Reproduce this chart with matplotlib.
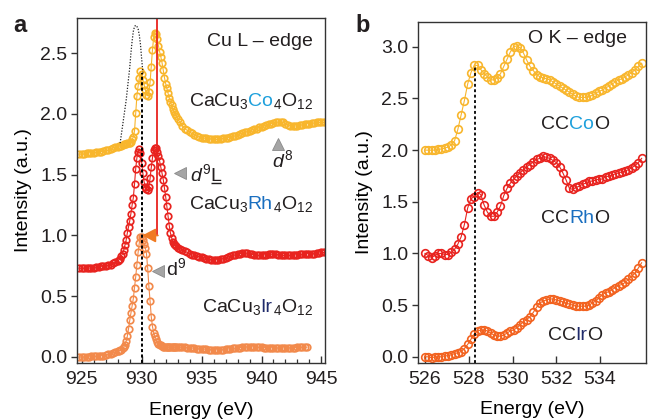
import numpy as np
import matplotlib
matplotlib.use("Agg")
import matplotlib.pyplot as plt
from matplotlib import transforms as mtrans
from matplotlib.ticker import MultipleLocator, FormatStrFormatter

# ---------------- data: Cu L-edge (panel a) ----------------
# energy grid segments (eV)
cu_x_lo = np.linspace(924.8, 927.8, 16)
cu_x_mid = np.linspace(928.0, 933.0, 51)
cu_x_hi = np.linspace(933.2, 945.2, 61)
cu_x_hi_ir = np.linspace(933.2, 943.8, 54)

co_L = [1.67, 1.67, 1.67, 1.675, 1.68, 1.68, 1.68, 1.685, 1.69, 1.69, 1.695, 1.70, 1.70, 1.71, 1.72, 1.73,
        1.73, 1.735, 1.74, 1.74, 1.745, 1.75, 1.75, 1.755, 1.76, 1.76,
        1.765, 1.77, 1.79, 1.81, 1.86, 2.01, 2.15, 2.23, 2.30, 2.35,
        2.33, 2.28, 2.24, 2.20, 2.16, 2.15, 2.18, 2.26, 2.39, 2.53,
        2.63, 2.67, 2.66, 2.62, 2.56, 2.51, 2.47, 2.42, 2.36, 2.30,
        2.25, 2.21, 2.17, 2.13, 2.10, 2.07, 2.04, 2.02, 2.00, 1.98,
        1.96,
        1.93, 1.90, 1.88, 1.865, 1.85, 1.84, 1.83, 1.82, 1.81, 1.805,
        1.80, 1.80, 1.795, 1.795, 1.79, 1.79, 1.79, 1.795, 1.80, 1.80,
        1.805, 1.81, 1.815, 1.82, 1.83, 1.835, 1.84, 1.85, 1.855, 1.86,
        1.87, 1.875, 1.88, 1.89, 1.895, 1.90, 1.91, 1.915, 1.92, 1.925,
        1.93, 1.935, 1.935, 1.93, 1.92, 1.91, 1.905, 1.90, 1.90, 1.905,
        1.91, 1.91, 1.915, 1.92, 1.92, 1.925, 1.925, 1.93, 1.93, 1.93,
        1.93]

rh_L = [0.73, 0.73, 0.73, 0.73, 0.73, 0.735, 0.735, 0.74, 0.74, 0.745, 0.75, 0.75, 0.755, 0.76, 0.77, 0.78,
        0.79, 0.80, 0.81, 0.83, 0.85, 0.88, 0.92, 0.96, 1.02, 1.07,
        1.12, 1.18, 1.25, 1.31, 1.42, 1.55, 1.64, 1.69, 1.71, 1.68,
        1.60, 1.51, 1.44, 1.40, 1.38, 1.37, 1.40, 1.47, 1.56, 1.64,
        1.70, 1.72, 1.72, 1.69, 1.65, 1.61, 1.56, 1.51, 1.46, 1.39,
        1.32, 1.24, 1.16, 1.08, 1.02, 0.98, 0.95, 0.93, 0.92, 0.91,
        0.90,
        0.89, 0.88, 0.87, 0.86, 0.85, 0.84, 0.835, 0.83, 0.825, 0.82,
        0.815, 0.81, 0.805, 0.80, 0.80, 0.80, 0.80, 0.805, 0.81, 0.815,
        0.82, 0.83, 0.835, 0.84, 0.845, 0.85, 0.855, 0.855, 0.855, 0.85,
        0.845, 0.84, 0.835, 0.835, 0.835, 0.84, 0.84, 0.845, 0.845, 0.845,
        0.845, 0.84, 0.84, 0.835, 0.835, 0.835, 0.835, 0.84, 0.84, 0.84,
        0.845, 0.845, 0.845, 0.85, 0.85, 0.85, 0.85, 0.855, 0.855, 0.86,
        0.86]

ir_L = [0.0, 0.0, 0.0, 0.0, 0.0, 0.005, 0.005, 0.005, 0.01, 0.01, 0.01, 0.015, 0.02, 0.025, 0.03, 0.04,
        0.045, 0.05, 0.055, 0.06, 0.07, 0.08, 0.10, 0.13, 0.17, 0.23,
        0.30, 0.36, 0.42, 0.48, 0.57, 0.66, 0.76, 0.86, 0.94, 0.99,
        0.99, 0.96, 0.93, 0.90, 0.85, 0.73, 0.58, 0.46, 0.33, 0.25,
        0.20, 0.17, 0.145, 0.125, 0.11, 0.10, 0.095, 0.09, 0.085, 0.085,
        0.08, 0.08, 0.08, 0.08, 0.08, 0.08, 0.08, 0.08, 0.08, 0.08,
        0.08,
        0.08, 0.08, 0.078, 0.076, 0.075, 0.073, 0.07, 0.068, 0.066, 0.065,
        0.064, 0.062, 0.06, 0.06, 0.058, 0.058, 0.058, 0.06, 0.06, 0.062,
        0.065, 0.067, 0.07, 0.072, 0.075, 0.077, 0.08, 0.082, 0.083, 0.084,
        0.083, 0.082, 0.08, 0.079, 0.078, 0.077, 0.076, 0.076, 0.075, 0.075,
        0.075, 0.074, 0.074, 0.074, 0.074, 0.075, 0.075, 0.076, 0.077, 0.078,
        0.079, 0.08, 0.08, 0.08]

# reference (dotted) curve
ref_x = [928.2, 928.3, 928.4, 928.5, 928.6, 928.7, 928.8, 928.9, 929.0, 929.1,
         929.2, 929.3, 929.4, 929.5, 929.6, 929.7, 929.8, 929.9, 930.0, 930.1]
ref_y = [1.76, 1.83, 1.90, 1.97, 2.04, 2.11, 2.20, 2.29, 2.38, 2.50,
         2.60, 2.68, 2.72, 2.73, 2.72, 2.70, 2.65, 2.57, 2.45, 2.34]

# ---------------- data: O K-edge (panel b) ----------------
ok_x = np.linspace(526.0, 535.9, 67)
co_K = [2.00, 2.00, 2.00, 2.00, 2.01, 2.01, 2.02,
        2.03, 2.05, 2.09, 2.20, 2.34, 2.48, 2.64,
        2.75, 2.82, 2.82, 2.78, 2.74, 2.71,
        2.68, 2.68, 2.70, 2.74, 2.81, 2.88, 2.95,
        3.00, 3.01, 2.99, 2.94, 2.87, 2.81, 2.77,
        2.73, 2.71, 2.70, 2.69, 2.68, 2.66,
        2.64, 2.62, 2.60, 2.58, 2.56, 2.54, 2.52,
        2.51, 2.51, 2.51, 2.52, 2.53, 2.55, 2.57,
        2.58, 2.60, 2.62, 2.64, 2.66, 2.68,
        2.69, 2.71, 2.73, 2.75, 2.78, 2.81, 2.84]
rh_K = [1.00, 0.98, 0.96, 0.98, 1.00, 1.00, 0.99,
        0.99, 1.01, 1.04, 1.09, 1.16, 1.28, 1.44,
        1.53, 1.55, 1.59, 1.57, 1.47, 1.40,
        1.36, 1.36, 1.40, 1.46, 1.56, 1.63, 1.68,
        1.72, 1.75, 1.78, 1.81, 1.84, 1.86, 1.89,
        1.91, 1.92, 1.94, 1.93, 1.92, 1.90,
        1.88, 1.84, 1.78, 1.71, 1.63, 1.62, 1.64,
        1.65, 1.67, 1.68, 1.70, 1.70, 1.71, 1.72,
        1.72, 1.74, 1.75, 1.76, 1.77, 1.78,
        1.79, 1.80, 1.81, 1.83, 1.85, 1.88, 1.92]
ir_K = [0.00, 0.00, -0.01, 0.00, 0.00, 0.00, 0.01,
        0.01, 0.02, 0.03, 0.04, 0.05, 0.08, 0.12,
        0.17, 0.22, 0.25, 0.26, 0.26, 0.25,
        0.23, 0.21, 0.20, 0.20, 0.21, 0.23, 0.25,
        0.26, 0.28, 0.31, 0.34, 0.36, 0.39, 0.43,
        0.48, 0.52, 0.54, 0.55, 0.56, 0.56,
        0.55, 0.54, 0.53, 0.52, 0.51, 0.50, 0.49,
        0.49, 0.49, 0.49, 0.50, 0.52, 0.54, 0.57,
        0.60, 0.62, 0.63, 0.65, 0.67, 0.69,
        0.70, 0.72, 0.75, 0.78, 0.81, 0.86, 0.91]

# annotation positions (data coords)
dash_a_x, dash_a_top = 930.0, 2.34
red_line_x, red_line_bottom = 931.3, 1.0
arrow_tip_x = 930.05
dash_b_x, dash_b_top = 528.3, 2.80

# ---------------- style ----------------
YELLOW = "#F8B62D"
RED = "#E8231F"
ORANGE_L = "#F28A4C"
ORANGE_R = "#F2621F"
TXT = "#231F20"
C_CO = "#1EA0DC"
C_RH = "#1A6FC0"
C_IR = "#1F2A6B"
FS = 14

plt.rcParams["font.family"] = ["Liberation Sans", "DejaVu Sans"]
plt.rcParams["mathtext.fontset"] = "custom"
plt.rcParams["mathtext.rm"] = "Liberation Sans"
plt.rcParams["mathtext.it"] = "Liberation Sans:italic"
plt.rcParams["mathtext.bf"] = "Liberation Sans:bold"
plt.rcParams["text.color"] = TXT

fig = plt.figure(figsize=(6.49, 4.19), dpi=100)
axL = fig.add_axes([77 / 649, 1 - 363 / 419, 248 / 649, 345 / 419])
axR = fig.add_axes([418 / 649, 1 - 363 / 419, 228 / 649, 341 / 419])
renderer = fig.canvas.get_renderer()


def multi_text(ax, x, y, pieces, ha="right", size=FS):
    ts = [ax.text(x, y, s, color=c, fontsize=size, ha="left", va="baseline")
          for s, c in pieces]
    ws = [t.get_window_extent(renderer).width for t in ts]
    tot = sum(ws)
    off = {"right": -tot, "center": -tot / 2, "left": 0}[ha]
    for t, w in zip(ts, ws):
        t.set_transform(ax.transData + mtrans.ScaledTranslation(off / fig.dpi, 0, fig.dpi_scale_trans))
        off += w
    return ts


mk = dict(marker="o", mfc="none", lw=0.8)

# ---- panel a ----
x_co = np.concatenate([cu_x_lo, cu_x_mid, cu_x_hi])
x_ir = np.concatenate([cu_x_lo, cu_x_mid, cu_x_hi_ir])
axL.plot(x_ir, ir_L, color=ORANGE_L, ms=4.7, mew=1.25, **mk)
axL.plot(x_co, rh_L, color=RED, ms=4.7, mew=1.25, **mk)
axL.plot(x_co, co_L, color=YELLOW, ms=4.7, mew=1.25, **mk)
axL.plot(ref_x, ref_y, color="#222222", lw=0.9, ls=(0, (1, 1.3)))

axL.set_xlim(924.6, 945.3)
axL.set_ylim(-0.05, 2.79)
axL.plot([dash_a_x, dash_a_x], [-0.05, dash_a_top], color="k", lw=1.4, ls=(0, (1.6, 1.2)))
axL.plot([red_line_x, red_line_x], [red_line_bottom, 2.79], color=RED, lw=1.3, solid_capstyle="butt")
axL.annotate("", xy=(arrow_tip_x, red_line_bottom), xytext=(red_line_x + 0.05, red_line_bottom),
             arrowprops=dict(arrowstyle="-|>,head_length=0.8,head_width=0.42",
                             color="#F07A22", lw=1.3, shrinkA=0, shrinkB=0))

tri = dict(mfc="#A5A5A5", mec="#8A8A8A", mew=0.6, ms=8, ls="none")
axL.plot([933.2], [1.51], marker="<", **tri)
axL.plot([931.36], [0.707], marker="<", **tri)
axL.plot([941.4], [1.75], marker="^", **tri)
axL.text(941.75, 1.56, r"$d^{8}$", fontsize=FS, ha="center", va="baseline")
axL.text(932.0, 0.672, r"$\mathrm{d}^{9}$", fontsize=FS, ha="left", va="baseline")
tl = multi_text(axL, 934.0, 1.45, [(r"$d^{9}$", TXT), ("L", TXT)], ha="left")
bb = tl[1].get_window_extent(renderer)
inv = axL.transData.inverted()
p0 = inv.transform((bb.x0 + 0.5, bb.y0 + 1.5))
p1 = inv.transform((bb.x1 - 0.5, bb.y0 + 1.5))
axL.plot([p0[0], p1[0]], [p0[1], p1[1]], color=TXT, lw=1.0, solid_capstyle="butt")

axL.text(944.27, 2.557, "Cu L – edge", fontsize=FS, ha="right", va="baseline")
multi_text(axL, 944.27, 2.066, [("CaCu$_3$", TXT), ("Co", C_CO), ("$_4$O$_{12}$", TXT)])
multi_text(axL, 944.27, 1.219, [("CaCu$_3$", TXT), ("Rh", C_RH), ("$_4$O$_{12}$", TXT)])
multi_text(axL, 944.27, 0.371, [("CaCu$_3$", TXT), ("Ir", C_IR), ("$_4$O$_{12}$", TXT)])

axL.set_xticks([925, 930, 935, 940, 945])
axL.xaxis.set_minor_locator(MultipleLocator(1))
axL.set_yticks([0.0, 0.5, 1.0, 1.5, 2.0, 2.5])
axL.yaxis.set_major_formatter(FormatStrFormatter("%.1f"))

# ---- panel b ----
axR.plot(ok_x, ir_K, color=ORANGE_R, ms=5.5, mew=1.2, **mk)
axR.plot(ok_x, rh_K, color=RED, ms=5.5, mew=1.2, **mk)
axR.plot(ok_x, co_K, color=YELLOW, ms=5.5, mew=1.2, **mk)
axR.set_xlim(525.68, 536.1)
axR.set_ylim(-0.06, 3.24)
axR.plot([dash_b_x, dash_b_x], [-0.06, dash_b_top], color="k", lw=1.3, ls=(0, (1.6, 1.4)))
axR.text(535.24, 3.04, "O K – edge", fontsize=FS, ha="right", va="baseline")
multi_text(axR, 532.86, 2.20, [("CC", TXT), ("Co", C_CO), ("O", TXT)], ha="center")
multi_text(axR, 532.86, 1.295, [("CC", TXT), ("Rh", C_RH), ("O", TXT)], ha="center")
multi_text(axR, 532.86, 0.165, [("CC", TXT), ("Ir", C_IR), ("O", TXT)], ha="center")
axR.set_xticks([526, 528, 530, 532, 534])
axR.set_yticks([0.0, 0.5, 1.0, 1.5, 2.0, 2.5, 3.0])
axR.yaxis.set_major_formatter(FormatStrFormatter("%.1f"))

for ax, ylx in ((axL, -0.18), (axR, -0.197)):
    for sp in ax.spines.values():
        sp.set_linewidth(1.0)
        sp.set_color("#333333")
    ax.tick_params(axis="x", which="major", direction="in", length=5, width=1.0,
                   labelsize=FS, pad=6, colors="#333333", labelcolor=TXT)
    ax.tick_params(axis="x", which="minor", direction="in", length=3, width=0.9, colors="#333333")
    ax.tick_params(axis="y", which="major", direction="out", length=4, width=1.0,
                   labelsize=FS, pad=3, colors="#333333", labelcolor=TXT)
    ax.set_xlabel("Energy (eV)", fontsize=FS)
    ax.set_ylabel("Intensity (a.u.)", fontsize=FS)
    ax.yaxis.set_label_coords(ylx, 0.5)
    ax.xaxis.set_label_coords(0.5, -0.112)

fig.text(13 / 649, 1 - 32 / 419, "a", fontsize=17, fontweight="bold", va="baseline")
fig.text(355 / 649, 1 - 32 / 419, "b", fontsize=17, fontweight="bold", va="baseline")

fig.savefig("out.png", dpi=100)
